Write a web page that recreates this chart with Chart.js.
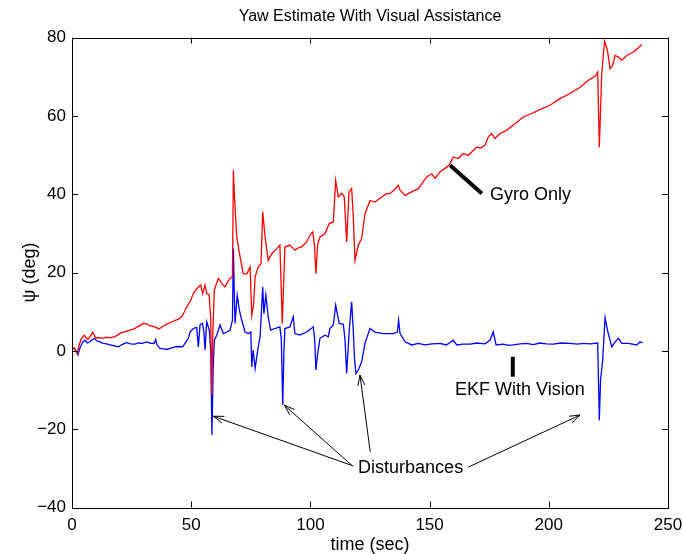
<!DOCTYPE html>
<html>
<head>
<meta charset="utf-8">
<script src="https://cdn.jsdelivr.net/npm/chart.js@4.4.1/dist/chart.umd.min.js"></script>
<style>
  body { margin: 0; background: #fff; }
  #wrap { width: 683px; height: 554px; }
</style>
</head>
<body>
<div id="wrap"><canvas id="yaw"></canvas></div>
<script>
// time (sec) and yaw (deg)
const gyroTime = [0, 1, 2.2, 3, 4, 5.2, 6, 6.8, 7.8, 8.7, 9.9, 11, 13, 14.5, 16, 18, 19.5, 20.8, 22.5, 24.3,
  26, 27.1, 28.5, 29.9, 31.3, 32.7, 34.5, 36.5, 38, 39.7, 41.5, 43.2, 44.5, 46, 47, 48.1, 49.8, 51, 52, 53,
  54, 54.8, 55.8, 56.5, 57.5, 58.2, 58.6, 59.1, 59.7, 60.5, 61.4, 62.8, 64.2, 65.2, 66.3, 67.3, 67.7, 68.1, 69.1, 70.5,
  71.8, 73.3, 74.7, 75.4, 76.2, 76.8, 78.1, 79.3, 80, 81, 82.3, 83.8, 85.9, 87.2, 88.2, 89.3, 91.4, 92.8, 93.5, 95.6,
  96.3, 98.4, 99.8, 101, 101.7, 102.3, 103, 104, 106.1, 107.9, 109.6, 110.6, 111.7, 113.1, 114.2, 115.2, 116.2, 117.3, 118, 118.7,
  120.1, 121.5, 122.9, 125, 127.1, 129.9, 131.5, 133.4, 135, 136.9, 137.6, 139.7, 142.5, 145.3, 146.5, 148.8, 150.9, 152.3, 154.4, 157.2,
  158.6, 159.9, 162, 164.1, 166.2, 167, 169.8, 171.5, 173.2, 174.6, 176, 177.4, 179.5, 182.3, 185.8, 189.3, 192.8, 196.3, 200.5, 204.7,
  208.9, 213.1, 216.6, 219.4, 220.5, 221.2, 222.2, 223.4, 224.6, 225.7, 226.8, 227.8, 229.2, 230.6, 232.7, 235.5, 237.6, 239];
const gyroPsi = [0.4, 0.8, -0.6, 1.5, 3.2, 4, 3.3, 3, 3.8, 4.7, 3.3, 3.4, 3.2, 3.5, 3.3, 3.6, 4.2, 4.7, 4.9, 5.3,
  5.6, 6, 6.5, 7, 6.9, 6.4, 6.2, 5.6, 6.2, 6.8, 7.3, 7.8, 8, 8.7, 9.8, 11.2, 12.9, 14.8, 15.6, 16.3,
  16.8, 14.6, 16.8, 14.6, 14.4, 8, -11.3, 5, 15.5, 17, 18.5, 17.2, 16.3, 17.5, 18.5, 18.9, 46.1, 40, 29.1, 24,
  19.7, 19.6, 21.4, 9.1, 12, 18.9, 21.4, 22.3, 35.5, 29.1, 23.1, 24.8, 26.1, 27, 7, 26.5, 27, 26.1, 25.7, 26.5,
  26.5, 27.8, 29.5, 30.4, 27, 19.7, 27, 29.1, 29.9, 32.5, 32.9, 43.5, 39.3, 40.2, 39.3, 27.8, 40.6, 41.4, 34.2, 23.1,
  27, 28.7, 35, 38.4, 38, 39.3, 40, 40.2, 41, 42.3, 41, 39.7, 40.6, 41.4, 42.5, 44.4, 45.2, 44, 45.7, 46.9,
  47.8, 49.5, 49.1, 50.4, 49.9, 50.4, 52, 51.8, 52.5, 54.6, 55.5, 54.2, 55.5, 56.3, 58, 59.7, 60.6, 61.6, 62.7, 64.4,
  65.7, 67.3, 69.1, 70.1, 71.2, 52, 70.8, 79.1, 76.7, 72, 72.9, 75.4, 75, 74.2, 75.4, 76.3, 77.4, 78.2];

const ekfTime = [0, 1, 2.5, 3.5, 4.5, 5.5, 6.5, 7.5, 8.5, 9.4, 10.5, 11.7, 13, 14.5, 16, 17.5, 19.4, 21, 22.7, 24.5,
  26.4, 28, 29.5, 31.3, 33, 34.5, 35.1, 35.6, 36.9, 38.3, 39.7, 41.5, 43.2, 44.8, 46.4, 47.4, 48.8, 49.5, 50.9, 52.3,
  53, 53.7, 54.7, 55.3, 55.8, 56.5, 57.6, 58.2, 58.7, 59.2, 59.7, 60.7, 62.1, 63.5, 65, 66.3, 67.3, 67.7, 68.1, 68.4,
  69.3, 70.2, 71.2, 72.6, 74, 75, 75.4, 76, 76.8, 77.9, 78.9, 80, 80.5, 81.3, 82.3, 83.3, 85.1, 87.2, 87.8, 88.4,
  88.9, 89.3, 91.4, 92.8, 93.5, 95.6, 98.4, 101.2, 101.8, 102.3, 103, 104, 106.1, 107.5, 108.2, 109.6, 110.6, 112.1, 113.8, 114.5,
  115.2, 116.3, 117.3, 118, 118.5, 119.1, 120.1, 121.5, 122.9, 125, 127.1, 130.6, 134.8, 136.5, 137, 137.6, 139.7, 142.5, 145.3, 148,
  151, 154.4, 157, 159.9, 161.4, 164, 167, 169.8, 173.2, 175.3, 176.7, 177.9, 180.9, 183, 185.1, 188, 190.7, 193.5, 196.3, 199,
  201.9, 205, 208.9, 212, 214.5, 217.5, 220.5, 221.2, 221.7, 222.6, 223.6, 224.6, 226.4, 227.8, 229.2, 230.6, 233.4, 236.9, 238.3, 239.4];
const ekfPsi = [0.4, 0.6, -1, 1, 2.2, 2.7, 2, 2.3, 2.8, 3.2, 2.5, 2.3, 1.9, 1.8, 1.5, 1.3, 1, 1.6, 2.1, 1.8,
  1.7, 2, 1.9, 2.3, 1.9, 1.9, 2.9, 1.6, 0.6, 0.5, 0.35, 0.7, 1, 1.1, 1, 1.9, 3.2, 4.8, 5.7, 6,
  1, 6.6, 7, 5, 0.2, 7.4, 5.3, 0, -21.5, -5, 2.7, 4, 6.6, 4.4, 4.8, 5.3, 7.8, 26.1, 14, 7,
  14.2, 10.4, 7.8, 4.8, 4.4, 4.8, -4.1, 0.2, -4.5, 0.2, 3.6, 16.3, 9.5, 14.2, 8.7, 5.3, 5.7, 6.1, 3, -13.9,
  0, 5.7, 6.1, 8.7, 4.4, 4, 4.8, 6.1, 3, -4.9, -1, 3.2, 4, 3.6, 5.7, 6.6, 11.7, 7, 6.8, 3,
  -5.8, 5.3, 12.5, 5, -2, -5.8, -4.9, -2.8, 1.9, 5.7, 4.8, 4.4, 4.4, 4.8, 7.8, 4.4, 2.3, 1.5, 1.9, 1.5,
  1.8, 1.9, 1.5, 2.7, 1.5, 1.7, 1.7, 2, 1.8, 2.7, 4.8, 1.5, 1.7, 1.4, 1.5, 1.8, 1.9, 1.6, 2, 1.8,
  1.7, 2, 1.9, 1.7, 1.9, 1.8, 2, -17.7, -7.5, -2.4, 8.5, 5.3, 1, 2.3, 3.2, 1.9, 1.9, 1.5, 2.3, 2];

const xTicks = [0, 50, 100, 150, 200, 250];
const yTicks = [-40, -20, 0, 20, 40, 60, 80];

const FONT = "'Liberation Sans', Arial, Helvetica, sans-serif";
const TITLE = 'Yaw Estimate With Visual Assistance';

function toPoints(xs, ys) {
    return xs.map((x, i) => ({x: x, y: ys[i]}));
}

// annotation text and arrows, in data units
const notes = [
    {text: 'Gyro Only', x: 175.3, y: 39.7, align: 'left'},
    {text: 'EKF With Vision', x: 187.9, y: -10, align: 'center'},
    {text: 'Disturbances', x: 120, y: -30, align: 'left'}
];
const pointers = [
    {from: [158.6, 47.4], to: [171.9, 40.2], width: 4, head: false},
    {from: [184.9, -1.5], to: [184.9, -6.6], width: 4, head: false},
    {from: [118, -29.4], to: [59.3, -16.7], width: 1, head: true},
    {from: [117.3, -29.2], to: [89.1, -13.9], width: 1, head: true},
    {from: [125.1, -25.8], to: [120.8, -6.2], width: 1, head: true},
    {from: [166.2, -29.7], to: [213.1, -16.4], width: 1, head: true}
];

// box with inward ticks on all four sides, like matlab, plus the notes
const boxPlugin = {
    id: 'box',
    afterDatasetsDraw(chart) {
        const ctx = chart.ctx;
        const a = chart.chartArea;
        const xs = chart.scales.x;
        const ys = chart.scales.y;
        const len = 6;
        ctx.save();
        ctx.strokeStyle = '#000';
        ctx.lineWidth = 1;
        ctx.beginPath();
        xTicks.forEach(v => {
            const px = Math.round(xs.getPixelForValue(v)) + 0.5;
            ctx.moveTo(px, a.bottom); ctx.lineTo(px, a.bottom - len);
            ctx.moveTo(px, a.top); ctx.lineTo(px, a.top + len);
        });
        yTicks.forEach(v => {
            const py = Math.round(ys.getPixelForValue(v)) + 0.5;
            ctx.moveTo(a.left, py); ctx.lineTo(a.left + len, py);
            ctx.moveTo(a.right, py); ctx.lineTo(a.right - len, py);
        });
        ctx.stroke();
        ctx.strokeRect(Math.round(a.left) + 0.5, Math.round(a.top) + 0.5,
            Math.round(a.right - a.left), Math.round(a.bottom - a.top));

        pointers.forEach(p => {
            const x1 = xs.getPixelForValue(p.from[0]), y1 = ys.getPixelForValue(p.from[1]);
            const x2 = xs.getPixelForValue(p.to[0]), y2 = ys.getPixelForValue(p.to[1]);
            ctx.lineWidth = p.width;
            ctx.beginPath();
            ctx.moveTo(x1, y1);
            ctx.lineTo(x2, y2);
            if (p.head) {
                const ang = Math.atan2(y2 - y1, x2 - x1);
                const hl = 11, spread = 0.33;
                ctx.moveTo(x2 - hl * Math.cos(ang - spread), y2 - hl * Math.sin(ang - spread));
                ctx.lineTo(x2, y2);
                ctx.lineTo(x2 - hl * Math.cos(ang + spread), y2 - hl * Math.sin(ang + spread));
            }
            ctx.stroke();
        });

        ctx.fillStyle = '#000';
        ctx.font = '18px ' + FONT;
        ctx.textBaseline = 'middle';
        notes.forEach(n => {
            ctx.textAlign = n.align;
            ctx.fillText(n.text, xs.getPixelForValue(n.x), ys.getPixelForValue(n.y));
        });

        // title centred over the plot box
        ctx.font = '16px ' + FONT;
        ctx.textAlign = 'center';
        ctx.fillText(TITLE, (a.left + a.right) / 2, 17);
        ctx.restore();
    }
};

const config = {
    type: 'scatter',
    data: {
        datasets: [
            {
                label: 'Gyro Only',
                data: toPoints(gyroTime, gyroPsi),
                showLine: true,
                borderColor: '#ff0000',
                borderWidth: 1.3,
                pointRadius: 0,
                tension: 0
            },
            {
                label: 'EKF With Vision',
                data: toPoints(ekfTime, ekfPsi),
                showLine: true,
                borderColor: '#0000ff',
                borderWidth: 1.3,
                pointRadius: 0,
                tension: 0
            }
        ]
    },
    options: {
        responsive: true,
        maintainAspectRatio: false,
        animation: false,
        layout: {padding: {left: 0, right: 15, top: 37.5, bottom: 0}},
        plugins: {
            legend: {display: false},
            tooltip: {enabled: false},
            title: {display: false}
        },
        scales: {
            x: {
                type: 'linear',
                min: 0,
                max: 250,
                afterBuildTicks: scale => { scale.ticks = xTicks.map(v => ({value: v})); },
                afterFit: scale => {
                    scale.height = 46.5;
                    scale.paddingLeft = 0;
                    scale.paddingRight = 0;
                },
                grid: {display: false, drawTicks: false},
                border: {display: false},
                ticks: {color: '#000', font: {family: FONT, size: 17}, padding: 8, maxRotation: 0},
                title: {display: true, text: 'time (sec)', color: '#000', font: {family: FONT, size: 18, lineHeight: 1}, padding: {top: 0, bottom: 0}}
            },
            y: {
                type: 'linear',
                min: -40,
                max: 80,
                afterBuildTicks: scale => { scale.ticks = yTicks.map(v => ({value: v})); },
                afterFit: scale => {
                    scale.width = 72;
                    scale.paddingTop = 0;
                    scale.paddingBottom = 0;
                },
                grid: {display: false, drawTicks: false},
                border: {display: false},
                ticks: {
                    color: '#000',
                    font: {family: FONT, size: 17},
                    padding: 6,
                    callback: v => String(v).replace('-', '\u2212')
                },
                title: {display: true, text: '\u03c8 (deg)', color: '#000', font: {family: FONT, size: 18}, padding: {top: 19, bottom: 0}}
            }
        }
    },
    plugins: [boxPlugin]
};

const ctx = document.getElementById('yaw').getContext('2d');
const chart = new Chart(ctx, config);
</script>
</body>
</html>
